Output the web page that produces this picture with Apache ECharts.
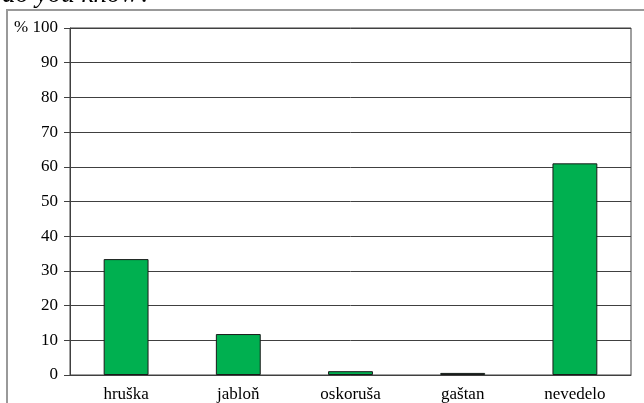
<!DOCTYPE html>
<html>
<head>
<meta charset="utf-8">
<script src="https://cdn.jsdelivr.net/npm/echarts@6/dist/echarts.min.js"></script>
<style>
  html, body { margin: 0; padding: 0; background: #fff; }
  #chart { width: 644px; height: 403px; }
</style>
</head>
<body>
<div id="chart"></div>
<script>
// data
var categories = ["hruška", "jabloň", "oskoruša", "gaštan", "nevedelo"];
var percents = [33.4, 11.8, 1.1, 0.6, 61];
var yTicks = { min: 0, max: 100, step: 10 };

var myChart = echarts.init(document.getElementById("chart"));
var serif = "Liberation Serif, Times New Roman, serif";

var option = {
  animation: false,
  backgroundColor: "#fff",
  grid: {
    show: true,
    left: 70,
    right: 13,
    top: 28,
    bottom: 28,
    borderColor: "#404040",
    borderWidth: 1,
  },
  graphic: [
    {
      // outer frame of the chart box
      type: "rect",
      shape: { x: 7, y: 10, width: 700, height: 500 },
      style: { fill: null, stroke: "#999", lineWidth: 2 },
      silent: true,
    },
    {
      type: "text",
      left: 2,
      top: -19,
      style: {
        text: "do you know?",
        font: "italic 27px " + serif,
        fill: "#000",
      },
      silent: true,
    },
  ],
  xAxis: {
    type: "category",
    data: categories,
    axisTick: { show: false },
    axisLine: { lineStyle: { color: "#404040", width: 1 } },
    axisLabel: {
      color: "#000",
      fontFamily: serif,
      fontSize: 17,
      margin: 11,
    },
  },
  yAxis: {
    type: "value",
    min: yTicks.min,
    max: yTicks.max,
    interval: yTicks.step,
    axisLine: { show: true, lineStyle: { color: "#404040", width: 1 } },
    axisTick: { show: true, length: 6, lineStyle: { color: "#404040" } },
    splitLine: { show: true, lineStyle: { color: "#404040", width: 1 } },
    axisLabel: {
      color: "#000",
      fontFamily: serif,
      fontSize: 17,
      margin: 12,
      formatter: function (v) {
        return v === yTicks.max ? "% " + v : v;
      },
    },
  },
  series: [
    {
      type: "bar",
      data: percents,
      barWidth: "40%",
      itemStyle: {
        color: "#00b050",
        borderColor: "#1a1a1a",
        borderWidth: 1,
      },
    },
  ],
};
myChart.setOption(option);
</script>
</body>
</html>
